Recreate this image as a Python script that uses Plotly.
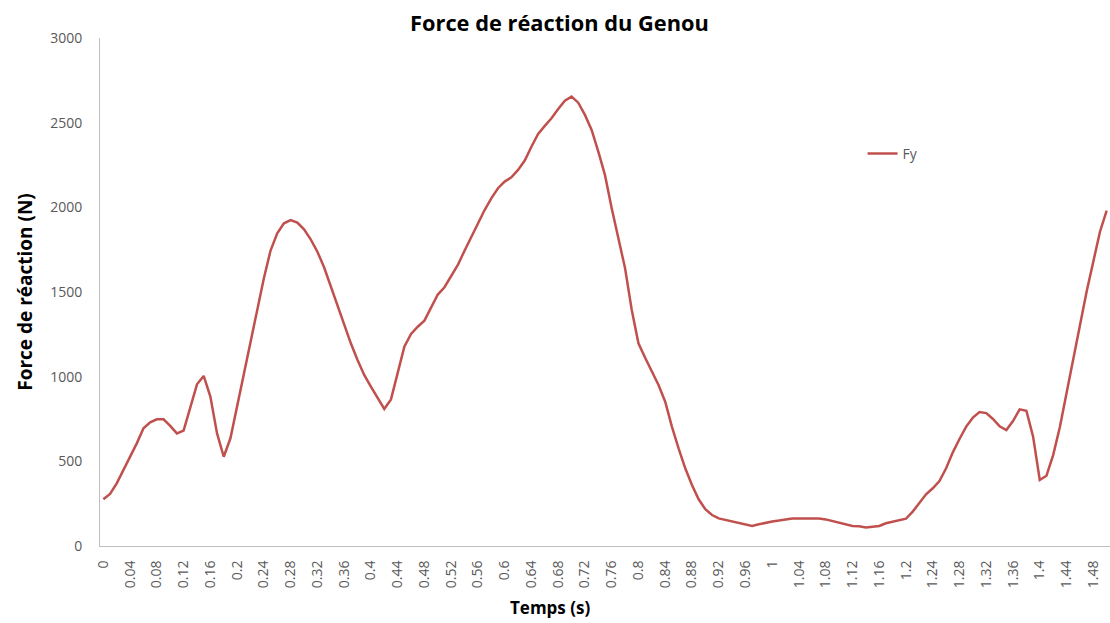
import plotly.graph_objects as go

# Sample times (s), one sample every 0.01 s from 0 to 1.50
time_step = 0.01
n_samples = 151
temps = [round(i * time_step, 2) for i in range(n_samples)]

# Knee reaction force Fy (N)
fy = [
    276, 307, 370, 449, 527, 606, 695, 730, 748, 748,
    709, 665, 681, 813, 955, 1004, 882, 665, 527, 636,
    823, 1000, 1193, 1390, 1581, 1745, 1847, 1906, 1925, 1910,
    1870, 1811, 1738, 1646, 1532, 1423, 1315, 1197, 1099, 1010,
    941, 872, 809, 866, 1020, 1177, 1252, 1295, 1331, 1410,
    1485, 1528, 1591, 1660, 1744, 1827, 1906, 1984, 2053, 2113,
    2152, 2177, 2221, 2276, 2358, 2433, 2481, 2526, 2581, 2630,
    2654, 2618, 2546, 2457, 2329, 2190, 1994, 1811, 1640, 1394,
    1197, 1112, 1029, 951, 852, 705, 577, 459, 360, 276,
    217, 183, 163, 154, 144, 134, 126, 118, 128, 138,
    145, 150, 157, 163, 163, 163, 163, 163, 157, 148,
    136, 126, 118, 116, 110, 114, 118, 134, 144, 152,
    161, 203, 252, 305, 341, 384, 459, 553, 632, 705,
    758, 791, 785, 750, 707, 685, 738, 807, 799, 646,
    390, 415, 537, 701, 902, 1108, 1305, 1502, 1679, 1856,
    1980,
]

# Category labels shown along the time axis
tick_values = [
    0, 0.04, 0.08, 0.12, 0.16, 0.2, 0.24, 0.28, 0.32, 0.36,
    0.4, 0.44, 0.48, 0.52, 0.56, 0.6, 0.64, 0.68, 0.72, 0.76,
    0.8, 0.84, 0.88, 0.92, 0.96, 1, 1.04, 1.08, 1.12, 1.16,
    1.2, 1.24, 1.28, 1.32, 1.36, 1.4, 1.44, 1.48,
]
tick_labels = [
    "0", "0.04", "0.08", "0.12", "0.16", "0.2", "0.24", "0.28", "0.32", "0.36",
    "0.4", "0.44", "0.48", "0.52", "0.56", "0.6", "0.64", "0.68", "0.72", "0.76",
    "0.8", "0.84", "0.88", "0.92", "0.96", "1", "1.04", "1.08", "1.12", "1.16",
    "1.2", "1.24", "1.28", "1.32", "1.36", "1.4", "1.44", "1.48",
]
y_ticks = [0, 500, 1000, 1500, 2000, 2500, 3000]

FONT = "Open Sans"
GREY = "#595959"
AXIS_LINE = "#bfbfbf"

fig = go.Figure()
fig.add_trace(go.Scatter(
    x=temps, y=fy, mode="lines", name="Fy",
    line=dict(color="#C0504D", width=2.5),
))

fig.update_layout(
    width=1110, height=623,
    margin=dict(l=100, r=0, t=38, b=77),
    paper_bgcolor="white", plot_bgcolor="white",
    font=dict(family=FONT, size=14, color=GREY),
    title=dict(
        text="<b>Force de réaction du Genou</b>",
        x=0.504, xanchor="center", y=0.963, yanchor="middle",
        font=dict(family=FONT, size=21.8, color="black"),
    ),
    showlegend=True,
    legend=dict(
        x=0.755, xanchor="left", y=0.772, yanchor="middle",
        bgcolor="rgba(0,0,0,0)", font=dict(size=14, color=GREY),
    ),
    # Time axis title, placed under the centre of the chart area
    annotations=[dict(
        text="<b>Temps (s)</b>", xref="paper", yref="paper",
        x=0.446, y=-0.122, xanchor="center", yanchor="middle",
        showarrow=False, font=dict(family=FONT, size=17, color="black"),
    )],
)

fig.update_xaxes(
    range=[-0.005, 1.505],
    tickmode="array", tickvals=tick_values, ticktext=tick_labels,
    tickangle=-90, ticks="", ticklabelstandoff=8,
    showgrid=False, zeroline=False,
    showline=True, linecolor=AXIS_LINE, linewidth=1,
)
fig.update_yaxes(
    range=[0, 3000],
    tickmode="array", tickvals=y_ticks,
    ticks="", ticklabelstandoff=14,
    showgrid=False, zeroline=False,
    showline=True, linecolor=AXIS_LINE, linewidth=1,
    title=dict(text="<b>Force de réaction (N)</b>", font=dict(family=FONT, size=19, color="black"), standoff=12),
)

fig.write_html("out.html")
